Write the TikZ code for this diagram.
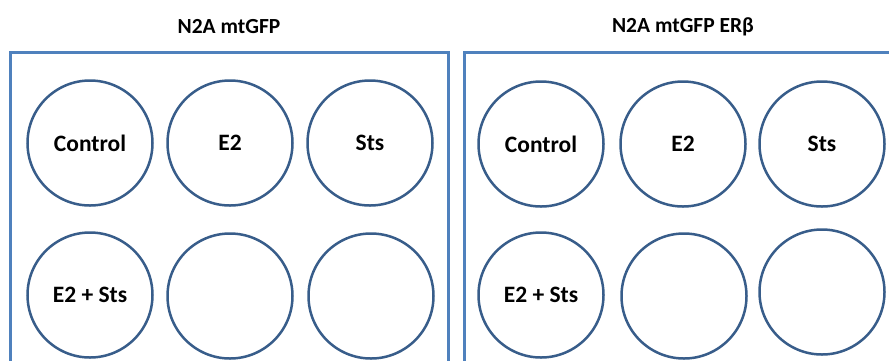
\documentclass[tikz,border=0pt]{standalone}
\usepackage{fontspec}
\setmainfont{Carlito}
\usepackage{tikz}
\usetikzlibrary{positioning}
\definecolor{plateBlue}{HTML}{4F81BD}
\definecolor{wellBlue}{HTML}{385D8A}
\tikzset{
    plate/.style={draw=plateBlue, line width=3pt},
    well/.style={circle, draw=wellBlue, line width=2.5pt, minimum size=125pt,
        inner sep=0pt, font=\fontsize{23.5}{27}\selectfont\bfseries},
    plateTitle/.style={font=\fontsize{21.5}{25}\selectfont\bfseries}
}

\begin{document}
\begin{tikzpicture}[x=1pt, y=-1pt]
    \def\rowOne{143}
    \def\rowTwo{295}
    \clip (0,0) rectangle (889,360);
    % left plate
    \node[plateTitle] (titleLeft) at (229,27) {N2A mtGFP};
    \draw[plate] (10,52) rectangle (448,400);
    \node[well] (ctrlLeft) at (90,\rowOne) {Control};
    \node[well] (etwoLeft) at (230,\rowOne) {E2};
    \node[well] (stsLeft) at (370,\rowOne) {Sts};
    \node[well] (bothLeft) at (90,\rowTwo) {E2 + Sts};
    \node[well] (emptyLeftA) at (230,296) {};
    \node[well] (emptyLeftB) at (371,296) {};
    % right plate
    \node[plateTitle] (titleRight) at (683,27) {N2A mtGFP ERβ};
    \draw[plate] (464,52) rectangle (900,400);
    \node[well] (ctrlRight) at (541,144) {Control};
    \node[well] (etwoRight) at (683,144) {E2};
    \node[well] (stsRight) at (822,144) {Sts};
    \node[well] (bothRight) at (541,\rowTwo) {E2 + Sts};
    \node[well] (emptyRightA) at (684,296) {};
    \node[well] (emptyRightB) at (822,292) {};
\end{tikzpicture}
\end{document}
